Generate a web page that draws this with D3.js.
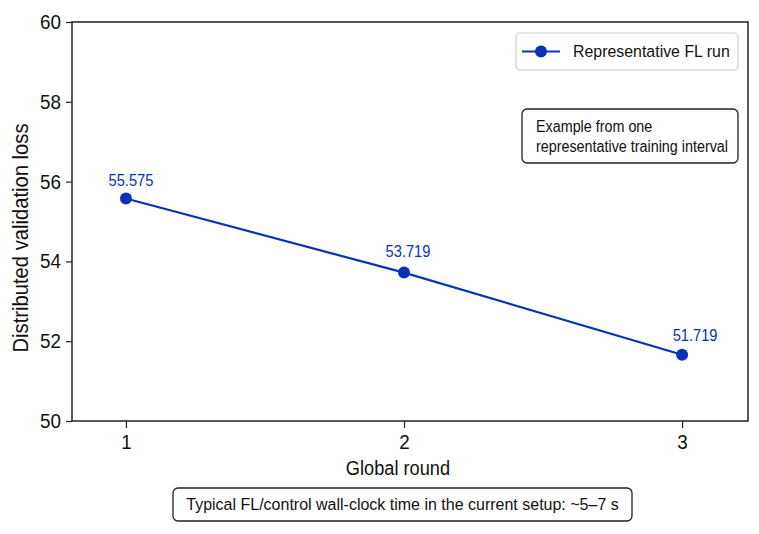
<!DOCTYPE html>
<html>
<head>
  <script src="https://cdn.jsdelivr.net/npm/d3@7"></script>
  <style>
    body { margin: 0; background: #fff; }
    svg { display: block; font-family: "Liberation Sans", Arial, sans-serif; }
  </style>
</head>
<body>
<script>
  // data
  const rounds = [1, 2, 3]
  const losses = [55.575, 53.719, 51.66]
  const pointLabels = ['55.575', '53.719', '51.719']
  const yTicks = [50, 52, 54, 56, 58, 60]
  const legendLabel = 'Representative FL run'
  const noteLines = ['Example from one', 'representative training interval']
  const footNote = 'Typical FL/control wall-clock time in the current setup: ~5\u20137 s'

  const W = 759, H = 534
  const blue = '#0a32b4'
  const ink = '#222'
  const K = 0.92 // text in the figure is slightly condensed

  const svg = d3.select('body').append('svg')
    .attr('width', W).attr('height', H)

  // squeeze text horizontally around its own anchor point
  function squeeze(sel, k = K) {
    sel.each(function () {
      const t = d3.select(this)
      const tx = +t.attr('x') || 0
      const prev = t.attr('transform') || ''
      t.attr('transform', `${prev} translate(${tx},0) scale(${k},1) translate(${-tx},0)`)
    })
    return sel
  }

  const x = d3.scaleLinear().domain([0.806, 3.237]).range([72, 748])
  const y = d3.scaleLinear().domain([50, 60]).range([421, 22])

  // axes
  const xAxis = svg.append('g')
    .attr('transform', `translate(0,${y(50)})`)
    .call(d3.axisBottom(x).tickValues(rounds).tickFormat(d3.format('d')).tickSize(7).tickPadding(6))
  const yAxis = svg.append('g')
    .attr('transform', `translate(${x.range()[0]},0)`)
    .call(d3.axisLeft(y).tickValues(yTicks).tickSize(6).tickPadding(5))

  for (const ax of [xAxis, yAxis]) {
    ax.select('.domain').remove()
    ax.selectAll('.tick line').attr('stroke', ink).attr('stroke-width', 1.2)
    ax.selectAll('.tick text').attr('fill', '#111').attr('font-size', 20.5)
      .attr('font-family', '"Liberation Sans", Arial, sans-serif')
      .call(squeeze)
  }

  // frame
  svg.append('rect')
    .attr('x', 72).attr('y', 22)
    .attr('width', 748 - 72).attr('height', 421 - 22)
    .attr('fill', 'none').attr('stroke', ink).attr('stroke-width', 1.5)

  // axis titles
  svg.append('text')
    .attr('x', 398).attr('y', 475)
    .attr('text-anchor', 'middle').attr('font-size', 19.8).attr('fill', '#111')
    .text('Global round').call(squeeze)
  svg.append('text')
    .attr('transform', 'translate(28,238) rotate(-90)')
    .attr('text-anchor', 'middle').attr('font-size', 21.5).attr('fill', '#111')
    .text('Distributed validation loss').call(squeeze, 0.94)

  // series
  const pts = rounds.map((r, i) => [r, losses[i]])
  const line = d3.line().x(d => x(d[0])).y(d => y(d[1]))
  svg.append('path')
    .attr('d', line(pts))
    .attr('fill', 'none').attr('stroke', blue).attr('stroke-width', 2.2)
  svg.selectAll('circle.pt').data(pts).join('circle')
    .attr('class', 'pt')
    .attr('cx', d => x(d[0])).attr('cy', d => y(d[1]))
    .attr('r', 6).attr('fill', blue)

  const labelDx = [5, 4, 13]
  const labelDy = [-13, -16, -14]
  svg.selectAll('text.pl').data(pts).join('text')
    .attr('class', 'pl')
    .attr('x', (d, i) => x(d[0]) + labelDx[i])
    .attr('y', (d, i) => y(d[1]) + labelDy[i])
    .attr('text-anchor', 'middle').attr('font-size', 16.5).attr('fill', blue)
    .text((d, i) => pointLabels[i])
    .call(squeeze, 0.89)

  // legend
  svg.append('rect')
    .attr('x', 516).attr('y', 33).attr('width', 222).attr('height', 37).attr('rx', 4)
    .attr('fill', '#fff').attr('stroke', '#cfcfcf').attr('stroke-width', 1.2)
  svg.append('line')
    .attr('x1', 522).attr('x2', 560).attr('y1', 51.5).attr('y2', 51.5)
    .attr('stroke', blue).attr('stroke-width', 2.2)
  svg.append('circle').attr('cx', 541).attr('cy', 51.5).attr('r', 6).attr('fill', blue)
  svg.append('text')
    .attr('x', 573).attr('y', 57.5).attr('font-size', 17.3).attr('fill', '#111')
    .text(legendLabel).call(squeeze)

  // note box
  svg.append('rect')
    .attr('x', 522).attr('y', 109).attr('width', 216).attr('height', 54).attr('rx', 5)
    .attr('fill', '#fff').attr('stroke', ink).attr('stroke-width', 1.3)
  svg.selectAll('text.note').data(noteLines).join('text')
    .attr('class', 'note')
    .attr('x', 536).attr('y', (d, i) => 132.5 + i * 20)
    .attr('font-size', 15.6).attr('fill', '#111')
    .text(d => d).call(squeeze)

  // footnote box
  svg.append('rect')
    .attr('x', 173).attr('y', 488).attr('width', 459).attr('height', 33).attr('rx', 5)
    .attr('fill', '#fff').attr('stroke', ink).attr('stroke-width', 1.3)
  svg.append('text')
    .attr('x', (173 + 632) / 2).attr('y', 510.5)
    .attr('text-anchor', 'middle').attr('font-size', 17.4).attr('fill', '#111')
    .text(footNote).call(squeeze)
</script>
</body>
</html>
